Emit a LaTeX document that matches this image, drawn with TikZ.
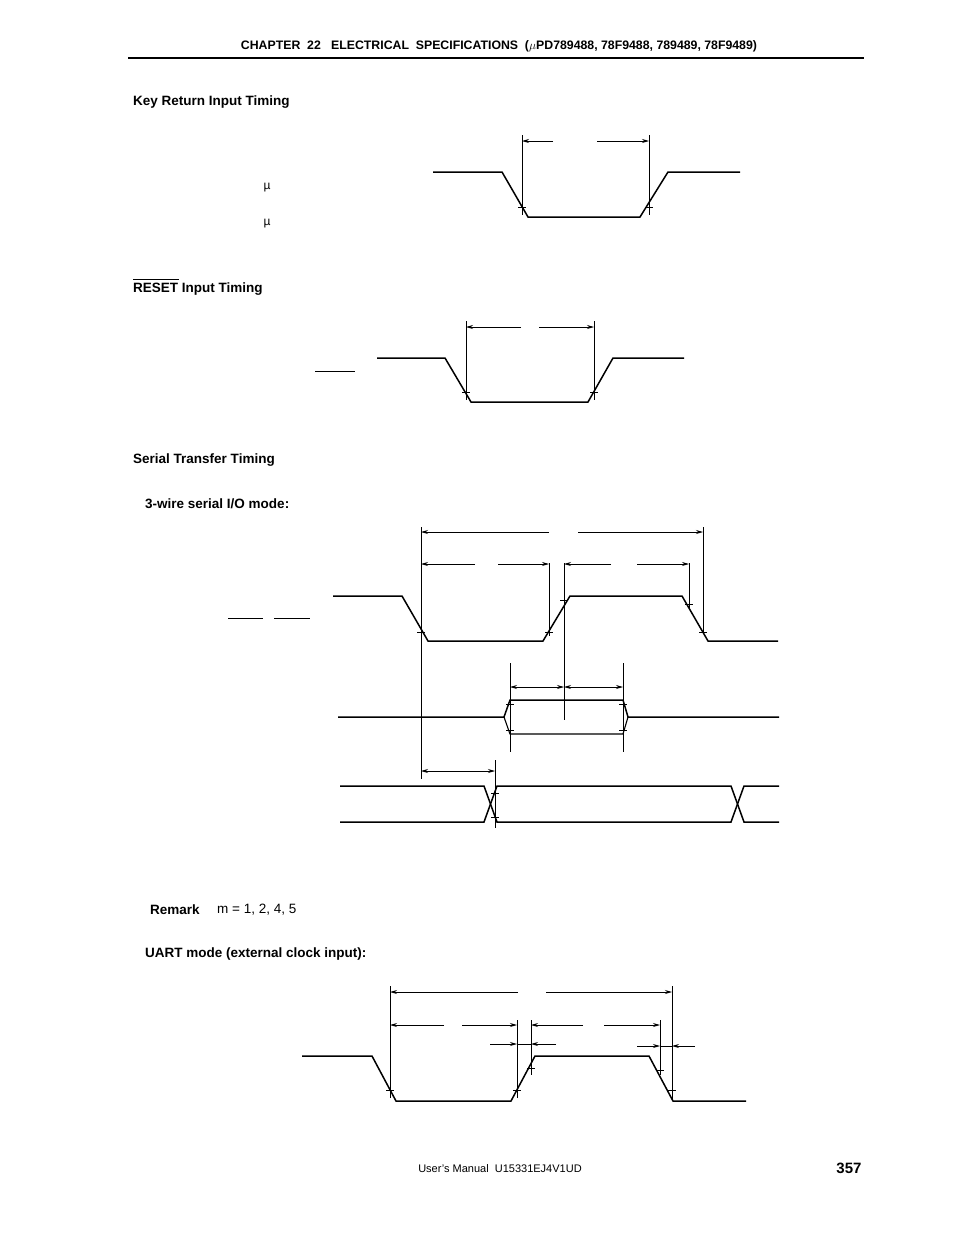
\documentclass[tikz,border=0pt]{standalone}
\usepackage{fontspec}
\setmainfont{Liberation Sans}
\usetikzlibrary{arrows.meta}
\begin{document}
\begin{tikzpicture}[x=1pt,y=-1pt,
  wave/.style={line width=1.5pt,line join=miter},
  thin/.style={line width=0.8pt},
  dim/.style={line width=0.8pt,-{Stealth[length=7pt,width=4pt]}},
  dd/.style={line width=0.8pt,{Stealth[length=7pt,width=4pt]}-{Stealth[length=7pt,width=4pt]}},
  ttl/.style={anchor=west,font=\bfseries\fontsize{13.5}{16}\selectfont,inner sep=0pt}]
\useasboundingbox (0,0) rectangle (954,1235);
% header
\node[font=\bfseries\fontsize{12.3}{14}\selectfont] (hdr) at (499,46) {CHAPTER\ \ 22\ \ \ ELECTRICAL\ \ SPECIFICATIONS\ \ ($\mu$PD789488, 78F9488, 789489, 78F9489)};
\draw[line width=1.5pt] (128,58) -- (864,58);
% Key return
\node[ttl] (t1) at (133,102) {Key Return Input Timing};
\node[font=\fontsize{12}{14}\selectfont] (mu1) at (267,188) {µ};
\node[font=\fontsize{12}{14}\selectfont] (mu2) at (267,224) {µ};
\draw[wave] (433,172)--(502,172)--(528,217)--(640,217)--(668,172)--(740,172);
\draw[thin] (522,135)--(522,215) (649,135)--(649,215);
\draw[dim] (553,141)--(522,141); \draw[dim] (597,141)--(649,141);
\foreach \x/\y in {522/207,649/207} \draw[thin] (\x-4,\y)--(\x+4,\y);
% Reset
\node[ttl] (t2) at (133,289) {RESET Input Timing};
\draw[thin] (133,279)--(179,279);
\draw[wave] (377,358)--(445,358)--(471,402)--(588,402)--(613,358)--(684,358);
\draw[thin] (466,321)--(466,400) (594,321)--(594,400);
\draw[dim] (521,327)--(466,327); \draw[dim] (539,327)--(594,327);
\draw[thin] (315,371)--(355,371);
\foreach \x/\y in {466/392,594/392} \draw[thin] (\x-4,\y)--(\x+4,\y);
% Serial
\node[ttl] (t3) at (133,460) {Serial Transfer Timing};
\node[ttl] (t4) at (145,504) {3-wire serial I/O mode:};
\draw[thin] (228,618)--(263,618) (274,618)--(310,618);
\draw[wave] (333,596)--(402,596)--(428,641)--(543,641)--(570,596)--(682,596)--(708,641)--(778,641);
\draw[thin] (421,527)--(421,779) (703,527)--(703,634) (549,563)--(549,636) (564,563)--(564,720) (689,563)--(689,610);
\draw[dim] (549,532)--(421,532); \draw[dim] (578,532)--(703,532);
\draw[dim] (475,564)--(421,564); \draw[dim] (498,564)--(549,564);
\draw[dim] (611,564)--(564,564); \draw[dim] (637,564)--(689,564);
\foreach \x/\y in {421/632,549/632,564/600,689/604,703/632} \draw[thin] (\x-4,\y)--(\x+4,\y);
% SI
\draw[wave] (338,717)--(504,717)--(510,700)--(623,700)--(628,717)--(779,717);
\draw[line width=1.1pt] (504,717)--(510,734)--(623,734)--(628,717);
\draw[thin] (510,663)--(510,752) (623,663)--(623,752);
\draw[dd] (510,687)--(564,687);
\draw[dd] (564,687)--(623,687);
\foreach \x/\y in {510/704,510/730,623/704,623/730} \draw[thin] (\x-4,\y)--(\x+4,\y);
% SO
\draw[wave] (340,786)--(484,786)--(497,822)--(731,822)--(744,786)--(779,786);
\draw[wave] (340,822)--(484,822)--(497,786)--(731,786)--(744,822)--(779,822);
\draw[thin] (495,760)--(495,828);
\draw[dd] (421,771)--(495,771);
\foreach \x/\y in {495/793,495/817} \draw[thin] (\x-4,\y)--(\x+4,\y);
% Remark
\node[ttl] (rm) at (150,910) {Remark};
\node[anchor=west,inner sep=0pt,font=\fontsize{13.5}{16}\selectfont] (rmt) at (217,910) {m = 1, 2, 4, 5};
% UART
\node[ttl] (t5) at (145,954) {UART mode (external clock input):};
\draw[wave] (302,1056)--(372,1056)--(396,1101)--(511,1101)--(535,1056)--(649,1056)--(673,1101)--(746,1101);
\draw[thin] (390,986)--(390,1098) (672,986)--(672,1100) (517,1020)--(517,1098) (531,1020)--(531,1075) (660,1020)--(660,1075);
\draw[dim] (518,992)--(390,992); \draw[dim] (546,992)--(672,992);
\draw[dim] (444,1025)--(390,1025); \draw[dim] (462,1025)--(517,1025);
\draw[dim] (583,1025)--(531,1025); \draw[dim] (604,1025)--(660,1025);
\draw[dim] (490,1044)--(517,1044); \draw[dim] (556,1044)--(531,1044);
\draw[thin] (517,1044)--(531,1044);
\draw[dim] (637,1046)--(660,1046); \draw[dim] (695,1046)--(672,1046);
\draw[thin] (660,1046)--(672,1046);
\foreach \x/\y in {390/1090,517/1090,531/1068,660/1070,672/1090} \draw[thin] (\x-4,\y)--(\x+4,\y);
% footer
\node[font=\fontsize{11}{13}\selectfont] (ft) at (500,1169) {User's Manual\ \ U15331EJ4V1UD};
\node[font=\bfseries\fontsize{15}{17}\selectfont] (pg) at (849,1168) {357};
\end{tikzpicture}
\end{document}
